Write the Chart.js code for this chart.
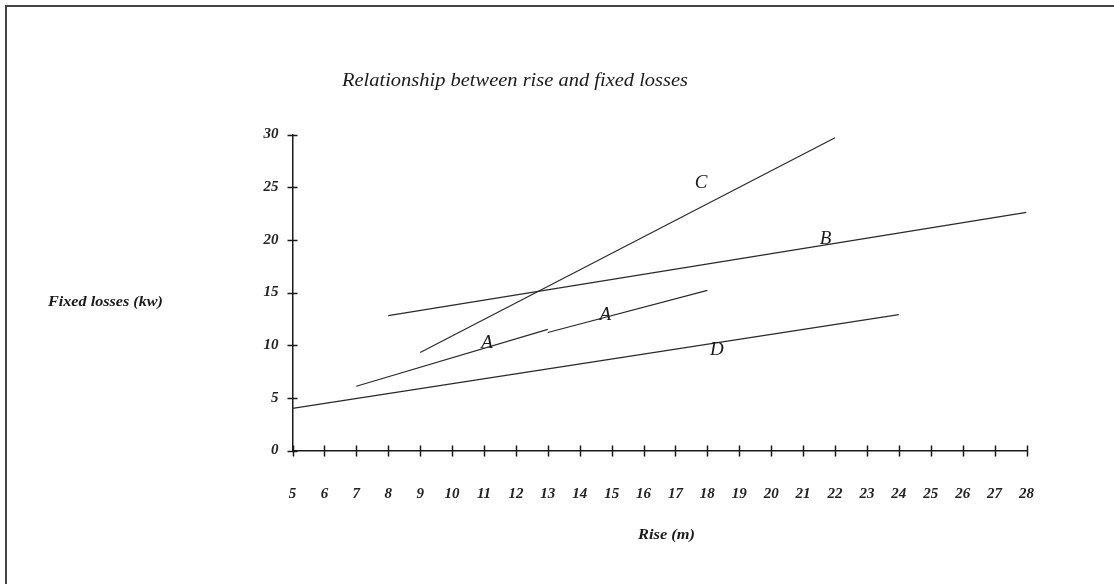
<!DOCTYPE html>
<html>
<head>
<meta charset="utf-8">
<script src="https://cdn.jsdelivr.net/npm/chart.js@4.4.1/dist/chart.umd.min.js"></script>
<style>
  html, body { margin: 0; padding: 0; background: #fff; }
  #wrap { position: relative; width: 1114px; height: 584px; }
</style>
</head>
<body>
<div id="wrap"><canvas id="chart"></canvas></div>
<script>
// データ (Rise m → Fixed losses kw)
const riseC = [9, 22];
const lossC = [9.3, 29.7];
const riseB = [8, 28];
const lossB = [12.8, 22.6];
const riseA1 = [7, 13];
const lossA1 = [6.1, 11.5];
const riseA2 = [13, 18];
const lossA2 = [11.2, 15.2];
const riseD = [5, 24];
const lossD = [4.0, 12.9];

// 線の名前ラベル (x, y はデータ座標)
const labelNames = ['C', 'B', 'A', 'A', 'D'];
const labelRise = [17.8, 21.7, 11.1, 14.8, 18.3];
const labelLoss = [25.4, 20.1, 10.2, 12.9, 9.5];

const xMin = 5, xMax = 28, xStep = 1;
const yMin = 0, yMax = 30, yStep = 5;

const titleText = 'Relationship between rise and fixed losses';
const yTitleText = 'Fixed losses (kw)';
const xTitleText = 'Rise (m)';

const serif = '"Liberation Serif", "Times New Roman", serif';
const ink = '#1a1a1a';

function toPoints(xs, ys) {
    return xs.map((x, i) => ({ x: x, y: ys[i] }));
}

function lineSet(label, xs, ys) {
    return {
        label: label,
        data: toPoints(xs, ys),
        borderColor: '#2a2a2a',
        borderWidth: 1.2,
        pointRadius: 0,
        fill: false,
        tension: 0
    };
}

// テキストを指定幅に合わせて描く
function fitText(ctx, text, x, y, font, width) {
    ctx.save();
    ctx.font = font;
    const w = ctx.measureText(text).width;
    ctx.translate(x, y);
    ctx.scale(width / w, 1);
    ctx.textAlign = 'left';
    ctx.textBaseline = 'middle';
    ctx.fillText(text, 0, 0);
    ctx.restore();
}

const decorPlugin = {
    id: 'decor',
    afterDraw(chart) {
        const ctx = chart.ctx;
        const xs = chart.scales.x;
        const ys = chart.scales.y;
        const area = chart.chartArea;

        ctx.save();
        // 外枠 (左と上のみ見える)
        ctx.strokeStyle = '#444';
        ctx.lineWidth = 2;
        ctx.beginPath();
        ctx.moveTo(6, chart.height);
        ctx.lineTo(6, 6);
        ctx.lineTo(chart.width, 6);
        ctx.stroke();

        // 目盛り (軸をまたぐ)
        ctx.strokeStyle = ink;
        ctx.lineWidth = 1.5;
        ctx.beginPath();
        for (let v = xMin; v <= xMax; v += xStep) {
            const px = Math.round(xs.getPixelForValue(v)) + 0.5;
            ctx.moveTo(px, area.bottom - 5);
            ctx.lineTo(px, area.bottom + 6);
        }
        for (let v = yMin; v <= yMax; v += yStep) {
            const py = Math.round(ys.getPixelForValue(v)) + 0.5;
            ctx.moveTo(area.left - 5, py);
            ctx.lineTo(area.left + 5, py);
        }
        ctx.stroke();

        // 線の名前
        ctx.fillStyle = ink;
        ctx.font = 'italic 19px ' + serif;
        ctx.textAlign = 'center';
        ctx.textBaseline = 'middle';
        labelNames.forEach((name, i) => {
            ctx.fillText(name, xs.getPixelForValue(labelRise[i]), ys.getPixelForValue(labelLoss[i]));
        });

        // タイトルと軸タイトル
        fitText(ctx, titleText, 342, 81, 'italic 19px ' + serif, 346);
        fitText(ctx, yTitleText, 48, 302, 'italic bold 14px ' + serif, 115);
        fitText(ctx, xTitleText, 638, 535, 'italic bold 14px ' + serif, 57);
        ctx.restore();
    }
};

const tickFont = { family: serif, style: 'italic', weight: 'bold', size: 15 };

document.addEventListener('DOMContentLoaded', function() {
    new Chart(document.getElementById('chart'), {
        type: 'line',
        data: {
            datasets: [
                lineSet('C', riseC, lossC),
                lineSet('B', riseB, lossB),
                lineSet('A', riseA1, lossA1),
                lineSet('A', riseA2, lossA2),
                lineSet('D', riseD, lossD)
            ]
        },
        options: {
            responsive: true,
            maintainAspectRatio: false,
            animation: false,
            layout: {
                padding: { left: 242.5, right: 87.5, top: 134.5, bottom: 73.5 }
            },
            plugins: {
                legend: { display: false },
                title: { display: false },
                tooltip: { enabled: false }
            },
            scales: {
                x: {
                    type: 'linear',
                    min: xMin,
                    max: xMax,
                    afterFit: function(scale) { scale.height = 60; },
                    grid: { display: false, drawTicks: false },
                    border: { display: true, color: ink, width: 1.5 },
                    ticks: {
                        stepSize: xStep,
                        autoSkip: false,
                        maxRotation: 0,
                        padding: 35,
                        color: '#222',
                        font: tickFont
                    }
                },
                y: {
                    type: 'linear',
                    min: yMin,
                    max: yMax,
                    afterFit: function(scale) { scale.width = 50; },
                    grid: { display: false, drawTicks: false },
                    border: { display: true, color: ink, width: 1.5 },
                    ticks: {
                        stepSize: yStep,
                        padding: 14,
                        color: '#222',
                        font: tickFont
                    }
                }
            }
        },
        plugins: [decorPlugin]
    });
});
</script>
</body>
</html>
